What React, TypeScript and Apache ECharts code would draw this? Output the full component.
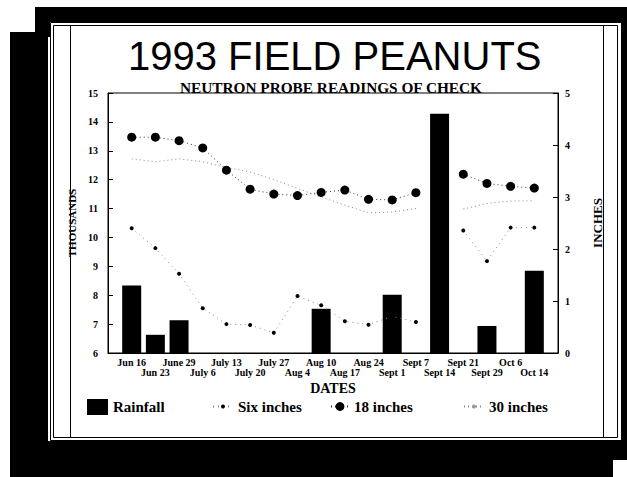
import React, { useEffect, useRef } from 'react';
import * as echarts from 'echarts';

const dates = ['Jun 16', 'Jun 23', 'June 29', 'July 6', 'July 13', 'July 20', 'July 27', 'Aug 4', 'Aug 10', 'Aug 17', 'Aug 24', 'Sept 1', 'Sept 7', 'Sept 14', 'Sept 21', 'Sept 29', 'Oct 6', 'Oct 14'];
const rainfall = [1.3, 0.35, 0.63, 0, 0, 0, 0, 0, 0.85, 0, 0, 1.12, 0, 4.6, 0, 0.52, 0, 1.58];
const sixInches = [10.32, 9.63, 8.74, 7.55, 7.0, 6.97, 6.7, 7.97, 7.65, 7.1, 6.98, 7.27, 7.07, null, 10.24, 9.18, 10.34, 10.34];
const eighteenInches = [13.47, 13.47, 13.35, 13.1, 12.33, 11.67, 11.5, 11.45, 11.56, 11.64, 11.32, 11.3, 11.55, null, 12.19, 11.87, 11.77, 11.71];
const thirtyInches = [12.72, 12.62, 12.72, 12.62, 12.42, 12.27, 12.0, 11.7, 11.4, 11.12, 10.85, 10.88, 11.0, null, 10.98, 11.18, 11.26, 11.27];
const leftRange = [6, 15];
const rightRange = [0, 5];

const SERIF = 'Liberation Serif';

export default function App() {
  const ref = useRef<HTMLDivElement>(null);
  useEffect(() => {
    if (!ref.current) return;
    const chart = echarts.init(ref.current, undefined, { renderer: 'svg' });
    const pad = (arr: any[], fill: any) => [fill, ...arr, fill];
    const black = { fill: '#000' };
    const labelStyle = { fontFamily: SERIF, fontWeight: 'bold' as const, fontSize: 10, color: '#000' };
    const legendText = { fontFamily: SERIF, fontWeight: 'bold' as const, fontSize: 15, color: '#000' };
    chart.setOption({
      animation: false,
      backgroundColor: '#fff',
      textStyle: { fontFamily: SERIF },
      title: [
        {
          text: '1993 FIELD PEANUTS',
          left: 128,
          top: 36,
          padding: 0,
          textStyle: { fontFamily: 'Liberation Sans', fontWeight: 'normal', fontSize: 40, lineHeight: 40, color: '#000' },
        },
        {
          text: 'NEUTRON PROBE READINGS OF CHECK',
          left: 180,
          top: 81,
          padding: 0,
          textStyle: { fontFamily: SERIF, fontWeight: 'bold', fontSize: 15.3, lineHeight: 13, color: '#000' },
        },
      ],
      graphic: [
        { type: 'rect', silent: true, shape: { x: 35, y: 7, width: 592, height: 15 }, style: black },
        { type: 'rect', silent: true, shape: { x: 35, y: 7, width: 15, height: 30 }, style: black },
        { type: 'rect', silent: true, shape: { x: 10, y: 32, width: 38, height: 445 }, style: black },
        { type: 'rect', silent: true, shape: { x: 10, y: 441, width: 617, height: 19 }, style: black },
        { type: 'rect', silent: true, shape: { x: 10, y: 460, width: 603, height: 17 }, style: black },
        { type: 'rect', silent: true, shape: { x: 621, y: 7, width: 6, height: 453 }, style: black },
        { type: 'rect', silent: true, shape: { x: 50.5, y: 22.5, width: 571, height: 418 }, style: { fill: 'none', stroke: '#000', lineWidth: 1 } },
        { type: 'rect', silent: true, shape: { x: 53.5, y: 25.5, width: 564, height: 412 }, style: { fill: 'none', stroke: '#000', lineWidth: 1 } },
        { type: 'line', silent: true, shape: { x1: 70.5, y1: 25, x2: 70.5, y2: 438 }, style: { stroke: '#000', lineWidth: 1 } },
        { type: 'line', silent: true, shape: { x1: 603.5, y1: 25, x2: 603.5, y2: 438 }, style: { stroke: '#000', lineWidth: 1 } },
      ],
      grid: {
        left: 108,
        right: 69,
        top: 93,
        bottom: 124,
        show: true,
        borderColor: '#000',
        borderWidth: 1,
        backgroundColor: 'transparent',
      },
      legend: [
        {
          data: ['Rainfall'],
          left: 87,
          top: 399,
          padding: 0,
          itemWidth: 21,
          itemHeight: 16,
          icon: 'rect',
          textStyle: legendText,
        },
        {
          data: ['Six inches'],
          left: 212,
          top: 399,
          padding: 0,
          itemWidth: 20,
          itemHeight: 5,
          textStyle: legendText,
        },
        {
          data: ['18 inches'],
          left: 330,
          top: 399,
          padding: 0,
          itemWidth: 18,
          itemHeight: 11,
          textStyle: legendText,
        },
        {
          data: ['30 inches'],
          left: 463,
          top: 399,
          padding: 0,
          itemWidth: 20,
          itemHeight: 5,
          textStyle: legendText,
        },
      ],
      xAxis: {
        type: 'category',
        data: pad(dates, ''),
        boundaryGap: false,
        name: 'DATES',
        nameLocation: 'middle',
        nameGap: 26,
        nameTextStyle: { fontFamily: SERIF, fontWeight: 'bold', fontSize: 14, color: '#000' },
        axisLine: { lineStyle: { color: '#000', width: 1 } },
        axisTick: { show: false },
        axisLabel: {
          ...labelStyle,
          interval: 0,
          margin: 4,
          lineHeight: 10,
          formatter: (v: string, i: number) => (i % 2 === 0 ? '\n' + v : v),
        },
        splitLine: { show: false },
      },
      yAxis: [
        {
          type: 'value',
          min: leftRange[0],
          max: leftRange[1],
          interval: 1,
          position: 'left',
          name: 'THOUSANDS',
          nameLocation: 'middle',
          nameGap: 24,
          nameRotate: 90,
          nameTextStyle: { fontFamily: SERIF, fontWeight: 'bold', fontSize: 11, color: '#000' },
          axisLine: { show: true, lineStyle: { color: '#000', width: 1 } },
          axisTick: { show: true, inside: true, length: 5, lineStyle: { color: '#000' } },
          axisLabel: { ...labelStyle, margin: 10 },
          splitLine: { show: false },
        },
        {
          type: 'value',
          min: rightRange[0],
          max: rightRange[1],
          interval: 1,
          position: 'right',
          name: 'INCHES',
          nameLocation: 'middle',
          nameGap: 33,
          nameRotate: 90,
          nameTextStyle: { fontFamily: SERIF, fontWeight: 'bold', fontSize: 13, color: '#000' },
          axisLine: { show: true, lineStyle: { color: '#000', width: 1 } },
          axisTick: { show: true, inside: true, length: 5, lineStyle: { color: '#000' } },
          axisLabel: { ...labelStyle, margin: 7 },
          splitLine: { show: false },
        },
      ],
      series: [
        {
          name: 'Rainfall',
          type: 'bar',
          yAxisIndex: 1,
          data: pad(rainfall, null),
          barWidth: 19,
          itemStyle: { color: '#000' },
        },
        {
          name: 'Six inches',
          type: 'line',
          yAxisIndex: 0,
          data: pad(sixInches, null),
          symbol: 'circle',
          symbolSize: 4,
          itemStyle: { color: '#000' },
          lineStyle: { color: '#888', width: 1, type: [1, 4] },
          connectNulls: false,
        },
        {
          name: '18 inches',
          type: 'line',
          yAxisIndex: 0,
          data: pad(eighteenInches, null),
          symbol: 'circle',
          symbolSize: 9,
          itemStyle: { color: '#000' },
          lineStyle: { color: '#333', width: 1, type: [1, 3] },
          connectNulls: false,
        },
        {
          name: '30 inches',
          type: 'line',
          yAxisIndex: 0,
          data: pad(thirtyInches, null),
          symbol: 'none',
          itemStyle: { color: '#999' },
          lineStyle: { color: '#888', width: 1, type: [1, 3] },
          connectNulls: false,
        },
      ],
    });
    return () => chart.dispose();
  }, []);
  return (
    <div
      ref={ref}
      style={{ position: 'fixed', left: 0, top: 0, width: 627, height: 477, background: '#fff' }}
    />
  );
}
